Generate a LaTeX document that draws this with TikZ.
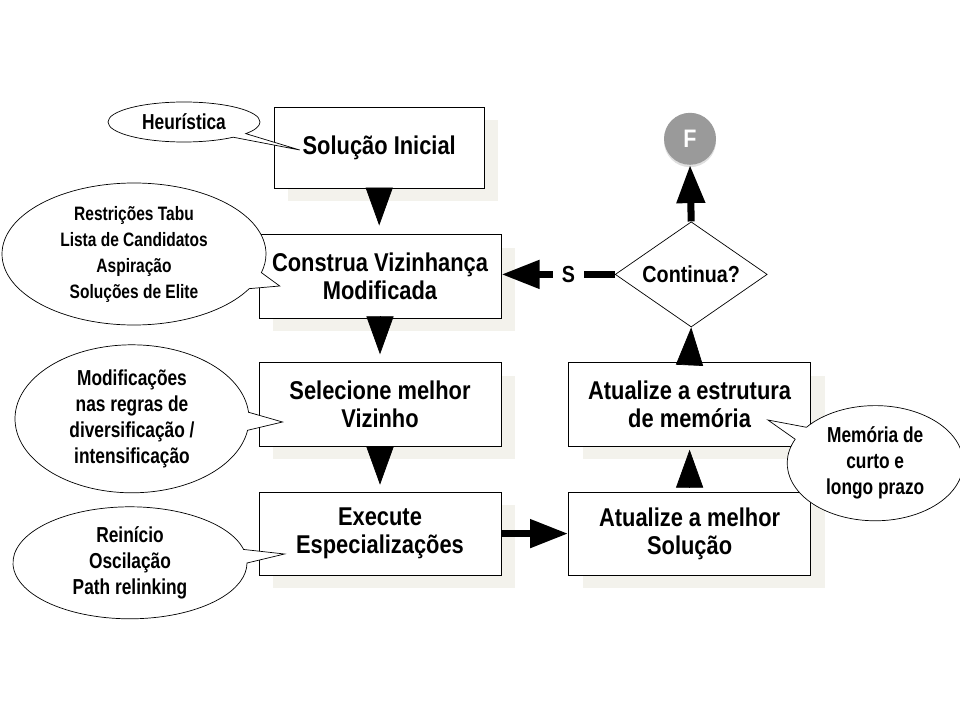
\documentclass[tikz,border=0pt]{standalone}
\usepackage{fontspec}
\setmainfont{Liberation Sans}[FakeStretch=0.85]
\newfontfamily\estreita{Liberation Sans}[FakeStretch=0.8]
\usetikzlibrary{shapes.geometric,shapes.callouts,shadows,arrows.meta}
\definecolor{sombra}{HTML}{F3F2EC}
\definecolor{cinzaF}{HTML}{9A9A9A}

\tikzset{
  caixa/.style={draw, fill=white, line width=0.7pt, minimum width=6.05cm, minimum height=2.08cm,
    align=center, font=\bfseries\fontsize{18.3}{20}\selectfont,
    general shadow={fill=sombra, shadow xshift=0.35cm, shadow yshift=-0.33cm}},
  balao/.style={ellipse callout, draw, fill=white, line width=0.5pt, align=center, inner sep=1pt,
    font=\estreita\bfseries\fontsize{15.4}{18.5}\selectfont, callout pointer arc=14},
  seta/.style={-{Triangle[width=0.68cm,length=0.95cm]}, line width=0.5pt},
  haste/.style={seta, line width=5pt},
}

\begin{document}
\begin{tikzpicture}
  \useasboundingbox (0,0) rectangle (24,18);

  %caixas
  \node[caixa, minimum width=5.25cm, minimum height=2.03cm] (ini) at (9.48,14.31) {Solução Inicial};
  \node[caixa] (viz) at (9.5,11.09) {Construa Vizinhança\\Modificada};
  \node[caixa] (sel) at (9.5,7.89) {Selecione melhor\\Vizinho};
  \node[caixa] (exe) at (9.5,4.66) {Execute\\Especializações};
  \node[caixa] (mel) at (17.24,4.66) {Atualize a melhor\\Solução};
  \node[caixa] (mem) at (17.24,7.89) {Atualize a estrutura\\de memória};

  %decisao e fim
  \node[draw, fill=white, diamond, aspect=1.45, minimum width=3.8cm, minimum height=2.63cm, inner sep=0pt,
    line width=0.5pt, font=\bfseries\fontsize{16.5}{18}\selectfont] (cont) at (17.28,11.14) {Continua?};
  \node[circle, fill=cinzaF, minimum size=1.3cm, text=white, font=\bfseries\fontsize{18}{20}\selectfont,
    drop shadow={shadow xshift=0pt, shadow yshift=-0.06cm, opacity=0.25}] (fim) at (17.25,14.53) {F};

  %setas
  \draw[seta, shorten >=0.22cm] (ini.south) -- (ini.south |- viz.north);
  \draw[seta, shorten >=0.2cm] (viz.south) -- (sel.north);
  \draw[seta, shorten >=0.17cm] (sel.south) -- (exe.north);
  \draw[haste] (exe.east) -- (mel.west);
  \draw[seta, shorten >=0.08cm, shorten <=0.12cm] (mel.north) -- (mem.south);
  \draw[seta] (mem.north) -- (cont.south);
  \draw[haste] (cont.north) -- (fim.south);
  \draw[haste] (cont.west) -- node[pos=0.41, fill=white, minimum width=0.78cm, inner sep=1pt,
    font=\bfseries\fontsize{16.5}{18}\selectfont] (s) {S} (cont.west -| viz.east);

  %baloes
  \node[balao, minimum width=3.8cm, minimum height=1.0cm,
    callout absolute pointer={([xshift=0.65cm,yshift=-0.06cm]ini.west)}] (heu) at (4.6,14.95) {Heurística};
  \node[balao, minimum width=6.6cm, minimum height=3.55cm, font=\estreita\bfseries\fontsize{13.8}{18.5}\selectfont,
    callout absolute pointer={([xshift=0.53cm,yshift=-0.24cm]viz.west)}] (res) at (3.35,11.65)
    {Restrições Tabu\\Lista de Candidatos\\Aspiração\\Soluções de Elite};
  \node[balao, minimum width=5.85cm, minimum height=3.7cm,
    callout absolute pointer={([xshift=0.6cm,yshift=-0.44cm]sel.west)}] (mod) at (3.3,7.53)
    {Modificações\\nas regras de\\diversificação /\\intensificação};
  \node[balao, minimum width=5.85cm, minimum height=2.8cm,
    callout absolute pointer={([xshift=0.65cm,yshift=-0.51cm]exe.west)}] (rei) at (3.25,3.93)
    {Reinício\\Oscilação\\Path relinking};
  \node[balao, minimum width=4.4cm, minimum height=2.88cm,
    callout absolute pointer={([xshift=-1.08cm,yshift=-0.39cm]mem.east)}] (memo) at (21.88,6.42)
    {Memória de\\curto e\\longo prazo};
\end{tikzpicture}
\end{document}
